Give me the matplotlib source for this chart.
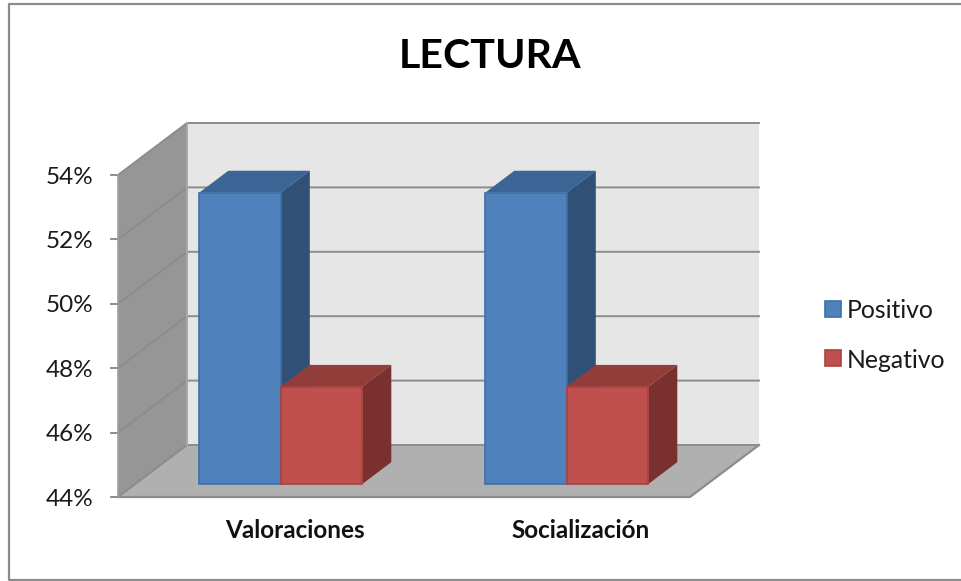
"""Recreates the LECTURA chart: oblique 3D columns drawn on a 2D axes."""

import matplotlib
matplotlib.use("Agg")
import matplotlib.pyplot as plt
from matplotlib.patches import Polygon, Rectangle

plt.rcParams["font.family"] = ["Lato", "DejaVu Sans"]

categories = ["Valoraciones", "Socialización"]
positivo = [53.05, 53.05]
negativo = [47.02, 47.02]
ticks = [44, 46, 48, 50, 52, 54]
series_names = ["Positivo", "Negativo"]

W, H = 962, 581
# front plane of the chart in pixels
LEFT, RIGHT, BOTTOM, TOP = 118, 690, 497, 175
YMIN, YMAX = 44, 54
# depth of the box, in data units
DX = 69 / 286
DY = 52 / 32.2
BAR_W = 81.5 / 286
D0, D1 = 0.25, 0.67

BLUE = ("#4f81bd", "#3c6494", "#305078", "#3f6fa6")
RED = ("#c0504d", "#933d3a", "#7a302e", "#a8433f")


def proj(x, y, d):
    return (x + DX * d, y + DY * d)


def quad(ax, pts, color, edge=None, lw=0.0, z=1):
    ax.add_patch(Polygon(pts, closed=True, facecolor=color,
                         edgecolor=edge if edge else color, linewidth=lw,
                         zorder=z, clip_on=False))


def bar3d(ax, x0, value, colors, z):
    front, top, side, edge = colors
    x1 = x0 + BAR_W
    quad(ax, [proj(x0, value, D0), proj(x1, value, D0),
              proj(x1, value, D1), proj(x0, value, D1)], top, z=z)
    quad(ax, [proj(x1, YMIN, D0), proj(x1, value, D0),
              proj(x1, value, D1), proj(x1, YMIN, D1)], side, z=z)
    quad(ax, [proj(x0, YMIN, D0), proj(x1, YMIN, D0),
              proj(x1, value, D0), proj(x0, value, D0)], front,
         edge=edge, lw=1.2, z=z + 0.1)


fig = plt.figure(figsize=(W / 100, H / 100), dpi=100, facecolor="white")
ax = fig.add_axes([LEFT / W, 1 - BOTTOM / H, (RIGHT - LEFT) / W, (BOTTOM - TOP) / H])
ax.set_xlim(0, len(categories))
ax.set_ylim(YMIN, YMAX)
ax.axis("off")

# outer chart frame (the right edge is cropped in the source picture)
fig.add_artist(plt.Line2D([1.0, 8.5 / W, 8.5 / W, 1.0],
                          [1 - 3.5 / H, 1 - 3.5 / H, 1 - 579.5 / H, 1 - 579.5 / H],
                          color="#8c8c8c", lw=1.6))

# walls and floor
n = len(categories)
quad(ax, [proj(0, YMIN, 1), proj(n, YMIN, 1), proj(n, YMAX, 1), proj(0, YMAX, 1)], "#e6e6e6")
quad(ax, [proj(0, YMIN, 0), proj(0, YMAX, 0), proj(0, YMAX, 1), proj(0, YMIN, 1)], "#969696")
quad(ax, [proj(0, YMIN, 0), proj(n, YMIN, 0), proj(n, YMIN, 1), proj(0, YMIN, 1)], "#b0b0b0")

# gridlines run along the side wall and the back wall
for t in ticks:
    xs = [proj(0, t, 0)[0], proj(0, t, 1)[0], proj(n, t, 1)[0]]
    ys = [proj(0, t, 0)[1], proj(0, t, 1)[1], proj(n, t, 1)[1]]
    ax.plot(xs, ys, color="#8c8c8c", lw=1.4, zorder=2, clip_on=False,
            solid_joinstyle="miter")
    ax.plot([-0.023, 0], [t, t], color="#8c8c8c", lw=1.4, zorder=2, clip_on=False)
    ax.text(-0.087, t, f"{t}%", ha="right", va="center_baseline", fontsize=17.5,
            color="#1a1a1a")

# box outline
ax.plot([0, n, *proj(n, YMIN, 1)[:1]], [YMIN, YMIN, proj(n, YMIN, 1)[1]],
        color="#8c8c8c", lw=1.6, zorder=2, clip_on=False)
ax.plot([0, 0], [YMIN, YMAX], color="#a0a0a0", lw=1.2, zorder=2, clip_on=False)
ax.plot([proj(0, 0, 1)[0]] * 2, [proj(0, YMIN, 1)[1], proj(0, YMAX, 1)[1]],
        color="#a8a8a8", lw=1.4, zorder=2, clip_on=False)

# columns, each group pair centred on its category
for i, (p, m) in enumerate(zip(positivo, negativo)):
    center = i + 0.509
    bar3d(ax, center - BAR_W, p, BLUE, 3 + i)
    bar3d(ax, center, m, RED, 3.5 + i)
    ax.text(center + 0.108, YMIN - 1.03, categories[i], ha="center", va="center",
            fontsize=17.5, fontweight="bold", color="#111111")

fig.text(490 / W, 1 - 57 / H, "LECTURA", ha="center", va="center", fontsize=29.6,
         fontweight="bold", color="black")

# legend
for name, colors, y in zip(series_names, (BLUE, RED), (309, 358)):
    fig.add_artist(Rectangle((825 / W, 1 - (y + 8) / H), 16 / W, 16 / H,
                             transform=fig.transFigure, facecolor=colors[0],
                             edgecolor=colors[3], linewidth=1.2))
    fig.text(847 / W, 1 - y / H, name, ha="left", va="center_baseline", fontsize=17.8,
             color="#1a1a1a")

fig.savefig("out.png", dpi=100)
plt.close(fig)
